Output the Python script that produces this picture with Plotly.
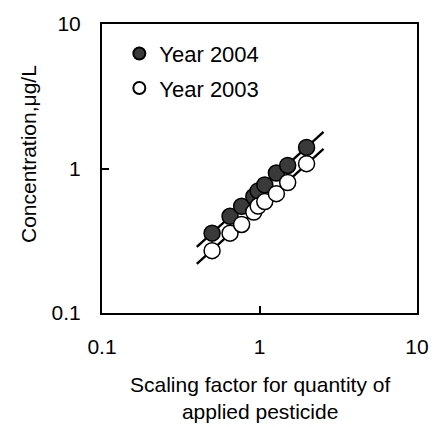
import numpy as np
import plotly.graph_objects as go

# Scaling factor applied to pesticide quantity (same set for both years)
scaling_factor = [0.50, 0.65, 0.77, 0.92, 0.98, 1.08, 1.28, 1.51, 1.99]
# Predicted concentration, ug/L
conc_2004 = [0.357, 0.467, 0.548, 0.640, 0.700, 0.770, 0.930, 1.050, 1.400]
conc_2003 = [0.270, 0.357, 0.410, 0.500, 0.550, 0.590, 0.670, 0.800, 1.080]
# Span of the fitted power-law lines
fit_span = [0.40, 2.55]

FONT = "Liberation Sans"
FS = 21


def power_fit(x, y, span):
    lx, ly = np.log10(x), np.log10(y)
    b, a = np.polyfit(lx, ly, 1)
    xs = np.array(span)
    return xs, 10 ** (a + b * np.log10(xs))


fig = go.Figure()

for y_vals in (conc_2004, conc_2003):
    fx, fy = power_fit(scaling_factor, y_vals, fit_span)
    fig.add_trace(go.Scatter(x=fx, y=fy, mode="lines",
                             line=dict(color="black", width=2.4),
                             showlegend=False, hoverinfo="skip"))

fig.add_trace(go.Scatter(
    x=scaling_factor, y=conc_2004, mode="markers", name="Year 2004",
    marker=dict(size=16, color="#3a3a3a", line=dict(color="black", width=1.5)),
    legendgroup="a"))
fig.add_trace(go.Scatter(
    x=scaling_factor, y=conc_2003, mode="markers", name="Year 2003",
    marker=dict(size=16, color="white", line=dict(color="black", width=1.5)),
    legendgroup="b"))

axis_common = dict(
    type="log", range=[-1, 1],
    tickvals=[0.1, 1, 10], ticktext=["0.1", "1", "10"],
    ticks="inside", ticklen=7, tickwidth=1.5, tickcolor="black",
    showline=True, linecolor="black", linewidth=2, mirror=True,
    showgrid=False, zeroline=False,
    tickfont=dict(family=FONT, size=FS, color="black"),
)

fig.update_xaxes(**axis_common, ticklabelstandoff=14)
fig.update_yaxes(**axis_common, ticklabelstandoff=15)

fig.add_annotation(
    text="Scaling factor for quantity of<br>applied pesticide",
    xref="paper", yref="paper", x=0.5, y=-0.20, xanchor="center", yanchor="top",
    showarrow=False, font=dict(family=FONT, size=FS, color="black"))
fig.add_annotation(
    text="Concentration,\u03bcg/L", textangle=-90,
    xref="paper", yref="paper", x=-0.235, y=0.55, xanchor="center", yanchor="middle",
    showarrow=False, font=dict(family=FONT, size=FS, color="black"))

fig.update_layout(
    width=441, height=427,
    margin=dict(l=102, r=20, t=21, b=114),
    paper_bgcolor="white", plot_bgcolor="white",
    legend=dict(x=0.055, y=0.97, xanchor="left", yanchor="top",
                font=dict(family=FONT, size=22, color="black"),
                bgcolor="rgba(0,0,0,0)", itemsizing="constant",
                tracegroupgap=3),
)

fig.write_html("out.html")
